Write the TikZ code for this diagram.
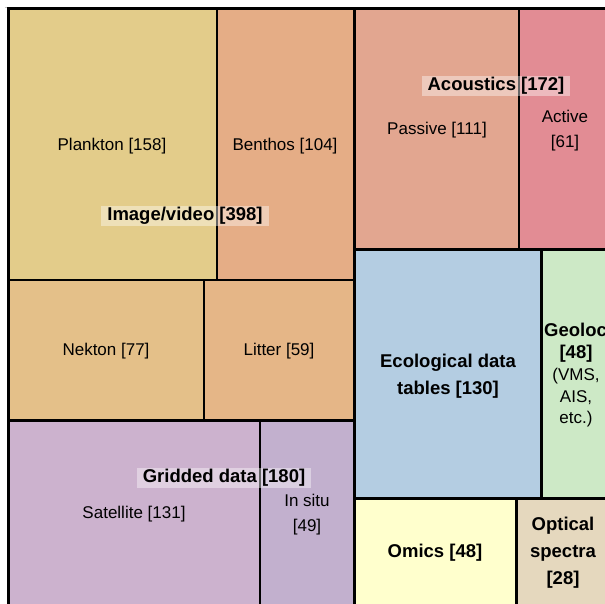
\documentclass[tikz,border=0pt]{standalone}
\usepackage{fontspec}
\setmainfont{Liberation Sans}
\definecolor{plankc}{RGB}{227,204,138}
\definecolor{benthc}{RGB}{229,173,134}
\definecolor{nektc}{RGB}{228,192,137}
\definecolor{littc}{RGB}{229,182,135}
\definecolor{passc}{RGB}{226,166,144}
\definecolor{actc}{RGB}{226,140,148}
\definecolor{ecolc}{RGB}{180,205,226}
\definecolor{geoc}{RGB}{205,233,198}
\definecolor{omicc}{RGB}{255,255,205}
\definecolor{optc}{RGB}{229,216,190}
\definecolor{satc}{RGB}{204,178,206}
\definecolor{situc}{RGB}{194,176,206}
\tikzset{
    thin line/.style={draw=black,line width=1.3pt},
    group line/.style={draw=black,line width=3pt},
    lab/.style={font=\fontsize{17}{24.5}\selectfont,align=center,inner sep=0pt},
    blab/.style={font=\bfseries\fontsize{18.5}{27}\selectfont,align=center,inner sep=0pt},
    head/.style={blab,fill=white,fill opacity=0.4,text opacity=1,
        inner xsep=6pt,minimum height=20pt}
}

\begin{document}
\begin{tikzpicture}[x=1pt,y=-1pt]
            \useasboundingbox (0,0) rectangle (605,604);
            \clip (0,0) rectangle (605,604);
            % cells
            \foreach \xa/\ya/\xb/\yb/\c in {
                8/9/217/280/plankc, 217/9/354/280/benthc,
                8/280/204/420/nektc, 204/280/354/420/littc,
                354/9/519/249/passc, 519/9/615/249/actc,
                354/249/541/498/ecolc, 541/249/615/498/geoc,
                8/420/260/615/satc, 260/420/354/615/situc,
                354/498/516/615/omicc, 516/498/615/615/optc} {
                \fill [\c] (\xa,\ya) rectangle (\xb,\yb);
            }
            \draw [gray!45,line width=0.6pt] (5,7) -- (605,7);
            % inner borders
            \draw [thin line] (217,9) -- (217,280);
            \draw [thin line] (204,280) -- (204,420);
            \draw [thin line] (8,280) -- (354,280);
            \draw [thin line] (519,9) -- (519,249);
            \draw [thin line] (260,420) -- (260,615);
            % group borders
            \foreach \xa/\ya/\xb/\yb in {
                8/9/354/420, 354/9/615/249, 354/249/541/498,
                541/249/615/498, 8/420/354/615, 354/498/516/615,
                516/498/615/615} {
                \draw [group line] (\xa,\ya) rectangle (\xb,\yb);
            }
            % labels
            \node [lab] (plankton) at (112,146) {Plankton [158]};
            \node [lab] (benthos) at (285,146) {Benthos [104]};
            \node [lab] (nekton) at (106,351) {Nekton [77]};
            \node [lab] (litter) at (279,351) {Litter [59]};
            \node [head] (image) at (185,216) {Image/video [398]};
            \node [lab] (passive) at (437,130) {Passive [111]};
            \node [lab] (active) at (565,130.5) {Active\\{[61]}};
            \node [head] (acoustics) at (496,86) {Acoustics [172]};
            \node [blab] (ecol) at (448,376) {Ecological data\\tables [130]};
            \node [blab,anchor=west] (geoname) at (544,330) {Geolocation};
            \node [blab] (geonum) at (576,354) {[48]};
            \node [lab,font=\fontsize{17}{21.5}\selectfont] (geonote) at (576,398) {(VMS,\\AIS,\\etc.)};
            \node [blab] (omics) at (435,553) {Omics [48]};
            \node [blab] (optical) at (563,553) {Optical\\spectra\\{[28]}};
            \node [lab] (satellite) at (134,514) {Satellite [131]};
            \node [lab] (insitu) at (307,514.5) {In situ\\{[49]}};
            \node [head] (gridded) at (224,478) {Gridded data [180]};
        \end{tikzpicture}
\end{document}
